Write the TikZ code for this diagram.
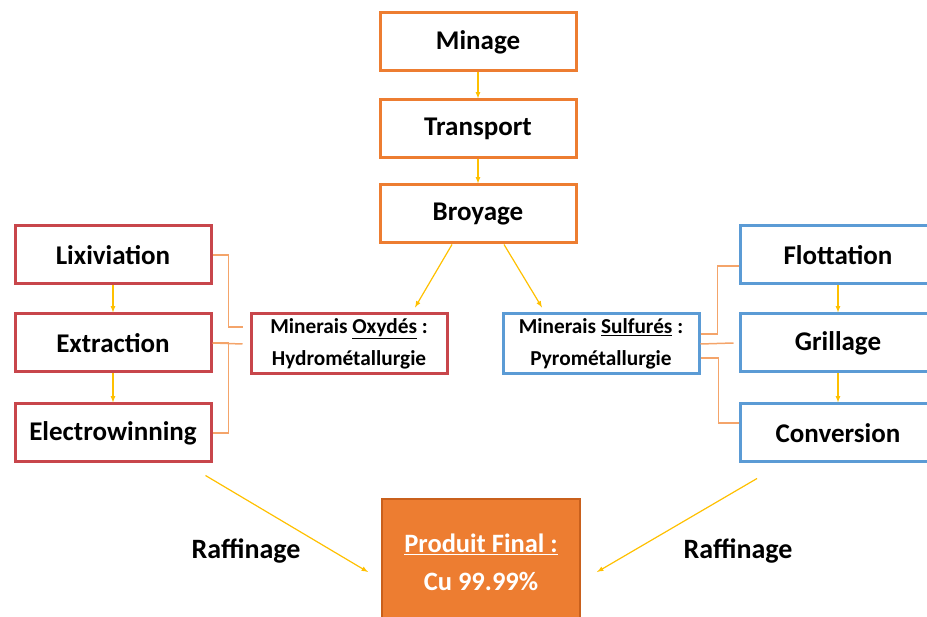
\documentclass[tikz,border=0pt]{standalone}
\usepackage{fontspec}
\setmainfont{Carlito}
\definecolor{boxorange}{HTML}{ED7D31}
\definecolor{boxred}{HTML}{C8464B}
\definecolor{boxblue}{HTML}{5B9BD5}
\definecolor{linkorange}{HTML}{F4A46A}
\definecolor{arrowyellow}{HTML}{FFC000}
\definecolor{darkorange}{HTML}{C9601C}
\begin{document}
\begin{tikzpicture}[>=latex, x=1pt, y=-1pt,
    box/.style={draw, line width=3pt, minimum width=196pt, minimum height=58pt, inner sep=0pt, font=\fontsize{27}{32}\selectfont\bfseries},
    etape/.style={box, draw=boxorange},
    hydro/.style={box, draw=boxred},
    pyro/.style={box, draw=boxblue},
    minerai/.style={box, minimum height=60pt, align=center, font=\fontsize{21.3}{32}\selectfont\bfseries},
    fleche/.style={->, draw=arrowyellow, line width=1.2pt},
    lien/.style={draw=linkorange, line width=1.5pt}]
\useasboundingbox (0,0) rectangle (927,617);
\begin{scope}
    \node[etape] (minage) at (478,42) {Minage};
    \node[etape] (transport) at (478,129) {Transport};
    \node[etape] (broyage) at (478,214) {Broyage};
    \draw[fleche] (minage) -- (transport);
    \draw[fleche] (transport) -- (broyage);
\end{scope}
% voie hydrometallurgique
\begin{scope}
    \node[hydro] (lix) at (113,255) {Lixiviation};
    \node[hydro] (ext) at (113,343) {Extraction};
    \node[hydro] (elw) at (113,433) {Electrowinning};
    \node[minerai, draw=boxred] (oxy) at (349,344) {Minerais \underline{Oxydés} :\\Hydrométallurgie};
    \draw[fleche] (lix) -- (ext);
    \draw[fleche] (ext) -- (elw);
    \coordinate (oxyA) at ([xshift=-7pt, yshift=17pt]oxy.west);
    \coordinate (oxyB) at ([xshift=-7pt]oxy.west);
    \draw[lien] (lix.east) -- ++(16,0) |- (oxyA);
    \draw[lien] (oxyB) -- (ext.east);
    \draw[lien] (elw.east) -- ++(16,0) |- (ext.east);
\end{scope}
% voie pyrometallurgique
\begin{scope}
    \node[pyro] (flo) at (838,255) {Flottation};
    \node[pyro] (gri) at (838,343) {Grillage};
    \node[pyro] (con) at (838,433) {Conversion};
    \node[minerai, draw=boxblue] (sul) at (601,344) {Minerais \underline{Sulfurés} :\\Pyrométallurgie};
    \draw[fleche] (flo) -- (gri);
    \draw[fleche] (gri) -- (con);
    \draw[lien] ([yshift=10pt]sul.east) -- ++(17,0) |- ([yshift=-11pt]flo.west);
    \draw[lien] (sul.east) -- ([xshift=-5pt]gri.west);
    \draw[lien] ([yshift=-14pt]sul.east) -- ++(18,0) |- ([yshift=10pt]con.west);
\end{scope}
\draw[fleche] ([xshift=-26pt]broyage.south) -- ([xshift=66pt,yshift=5pt]oxy.north);
\draw[fleche] ([xshift=26pt]broyage.south) -- ([xshift=-59pt,yshift=5pt]sul.north);
% produit final
\node[draw=darkorange, fill=boxorange, line width=2pt, minimum width=198pt, minimum height=126pt, align=center, text=white,
      font=\fontsize{26.5}{38}\selectfont\bfseries] (cu) at (481,562) {\underline{Produit Final :}\\Cu 99.99\%};
\coordinate (cuL) at (368,572);
\coordinate (cuR) at (597,572);
\draw[fleche] ([xshift=-7pt,yshift=-12pt]elw.south east) -- (cuL);
\draw[fleche] ([xshift=-81pt,yshift=-15pt]con.south) -- (cuR);
\node[font=\fontsize{28}{32}\selectfont\bfseries] (rafL) at (246,551) {Raffinage};
\node[font=\fontsize{28}{32}\selectfont\bfseries] (rafR) at (738,551) {Raffinage};
\end{tikzpicture}
\end{document}
